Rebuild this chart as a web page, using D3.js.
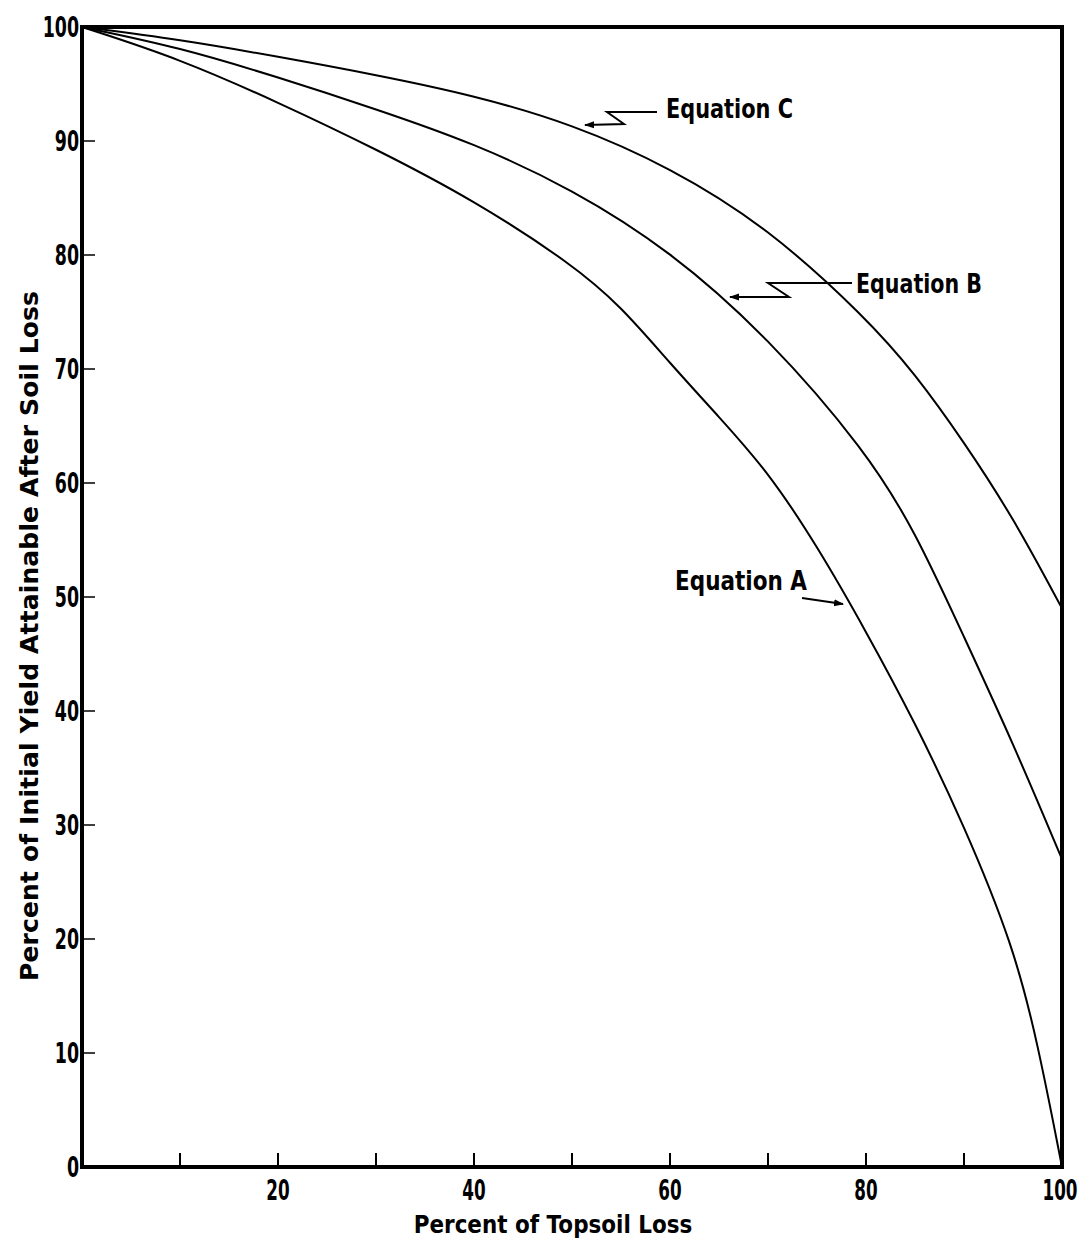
<!DOCTYPE html>
<html>
<head>
<meta charset="utf-8">
<script src="https://cdn.jsdelivr.net/npm/d3@7"></script>
<style>
  body { margin: 0; background: #fff; }
  text { font-family: "DejaVu Sans", "Liberation Sans", sans-serif; font-weight: bold; fill: #000; }
</style>
</head>
<body>
<div id="chart"></div>
<script>
// Percent of topsoil loss (x) vs percent of initial yield (y)
const eqA = [[0,100],[10,97.2],[20,93.4],[30,89.3],[40,84.8],[50,79.2],[55,75.5],[60,70.5],[65,65.8],[70,61],[75,54.5],[80,47],[85,39],[90,30],[95,19.5],[97.5,11],[100,0]];
const eqB = [[0,100],[10,98.2],[20,95.6],[30,92.8],[40,89.8],[50,85.8],[60,80.4],[70,72.8],[80,62.8],[85,55.8],[90,46.5],[95,37.2],[100,27]];
const eqC = [[0,100],[10,98.9],[20,97.4],[30,95.8],[40,94],[50,91.5],[60,87.7],[70,82.4],[80,74.5],[85,69.6],[90,63.6],[95,57],[100,49]];

const xTicks = [10,20,30,40,50,60,70,80,90];
const xLabels = [20,40,60,80,100];
const yTicks = [0,10,20,30,40,50,60,70,80,90,100];

const width = 1085, height = 1240;
const margin = {left: 82, right: 23, top: 27, bottom: 73};

const svg = d3.select("#chart").append("svg")
  .attr("width", width)
  .attr("height", height);

const x = d3.scaleLinear().domain([0, 100]).range([margin.left, width - margin.right]);
const y = d3.scaleLinear().domain([0, 100]).range([height - margin.bottom, margin.top]);

// inward ticks
svg.append("g").selectAll("line").data(xTicks).join("line")
  .attr("x1", d => x(d)).attr("x2", d => x(d))
  .attr("y1", y(0)).attr("y2", y(0) - 14)
  .attr("stroke", "#000").attr("stroke-width", 2);

svg.append("g").selectAll("line").data(yTicks.slice(1, -1)).join("line")
  .attr("x1", x(0)).attr("x2", x(0) + 13)
  .attr("y1", d => y(d)).attr("y2", d => y(d))
  .attr("stroke", "#000").attr("stroke-width", 1.5);

// frame
svg.append("rect")
  .attr("x", x(0)).attr("y", y(100))
  .attr("width", x(100) - x(0)).attr("height", y(0) - y(100))
  .attr("fill", "none").attr("stroke", "#000").attr("stroke-width", 4);

// tick labels, squeezed to look like the narrow original lettering
const squeeze = 0.6;
svg.append("g").selectAll("text").data(xLabels).join("text")
  .attr("transform", d => `translate(${d === 100 ? x(d) - 2 : x(d)},${y(0) + 33}) scale(${squeeze},1)`)
  .attr("text-anchor", "middle")
  .attr("font-size", 28)
  .text(d => d);

svg.append("g").selectAll("text").data(yTicks).join("text")
  .attr("transform", d => `translate(${x(0) - 3},${y(d)}) scale(${squeeze},1)`)
  .attr("dy", "0.36em")
  .attr("text-anchor", "end")
  .attr("font-size", 29)
  .text(d => d);

// axis titles
svg.append("text")
  .attr("transform", "translate(553,1233) scale(0.86,1)")
  .attr("text-anchor", "middle")
  .attr("font-size", 25)
  .text("Percent of Topsoil Loss");

svg.append("text")
  .attr("transform", "translate(38,636) rotate(-90)")
  .attr("text-anchor", "middle")
  .attr("font-size", 25)
  .attr("textLength", 690)
  .text("Percent of Initial Yield Attainable After Soil Loss");

// curves
const line = d3.line()
  .x(d => x(d[0]))
  .y(d => y(d[1]))
  .curve(d3.curveBasis);

[eqA, eqB, eqC].forEach(s => {
  svg.append("path")
    .datum(s)
    .attr("d", line)
    .attr("fill", "none")
    .attr("stroke", "#000")
    .attr("stroke-width", 2);
});

// arrowheads and labels
svg.append("defs").append("marker")
  .attr("id", "arr")
  .attr("viewBox", "0 0 10 10")
  .attr("refX", 9).attr("refY", 5)
  .attr("markerWidth", 5).attr("markerHeight", 5)
  .attr("orient", "auto-start-reverse")
  .append("path").attr("d", "M0,1.5L10,5L0,8.5Z").attr("fill", "#000");

const leaders = [
  {pts: [[657,112],[607,112],[624,124],[585,125]]},
  {pts: [[852,283],[768,283],[789,297],[730,297]]},
  {pts: [[802,598],[843,604]]}
];
leaders.forEach(l => {
  svg.append("path")
    .attr("d", d3.line()(l.pts))
    .attr("fill", "none")
    .attr("stroke", "#000")
    .attr("stroke-width", 2)
    .attr("marker-end", "url(#arr)");
});

const labels = [
  {t: "Equation C", x: 666, y: 118, w: 127},
  {t: "Equation B", x: 856, y: 293, w: 126},
  {t: "Equation A", x: 675, y: 590, w: 132}
];
svg.append("g").selectAll("text").data(labels).join("text")
  .attr("x", d => d.x).attr("y", d => d.y)
  .attr("font-size", 26)
  .attr("textLength", d => d.w)
  .attr("lengthAdjust", "spacingAndGlyphs")
  .text(d => d.t);
</script>
</body>
</html>
